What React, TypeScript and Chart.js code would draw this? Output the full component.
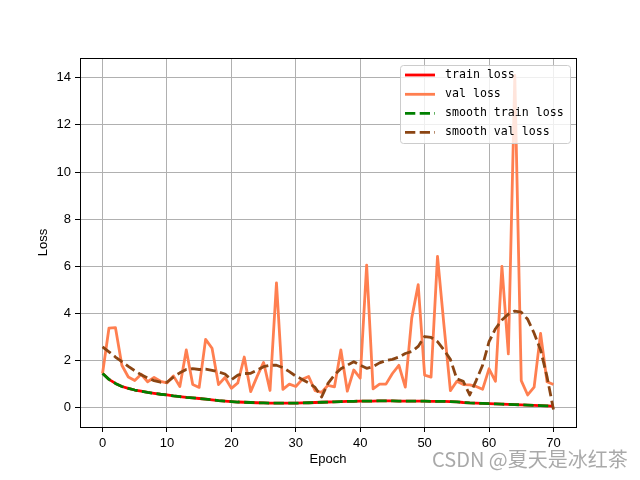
import React, { useEffect, useRef } from "react";
import { Chart, registerables } from "chart.js";

Chart.register(...registerables);

const trainLoss = [
  1.46, 1.2, 1.03, 0.9, 0.82, 0.75, 0.7, 0.65, 0.61, 0.57,
  0.54, 0.5, 0.47, 0.44, 0.42, 0.39, 0.36, 0.33, 0.3, 0.28,
  0.26, 0.24, 0.23, 0.22, 0.21, 0.2, 0.19, 0.19, 0.19, 0.19,
  0.19, 0.2, 0.21, 0.22, 0.23, 0.24, 0.25, 0.26, 0.27, 0.27,
  0.28, 0.28, 0.28, 0.29, 0.29, 0.29, 0.28, 0.28, 0.28, 0.28,
  0.28, 0.27, 0.27, 0.27, 0.26, 0.25, 0.22, 0.2, 0.19, 0.18,
  0.17, 0.16, 0.15, 0.14, 0.13, 0.12, 0.11, 0.1, 0.09, 0.08,
  0.07,
];

const valLoss = [
  1.45, 3.38, 3.4, 1.8, 1.3, 1.15, 1.42, 1.1, 1.28, 1.12,
  1.05, 1.35, 0.9, 2.45, 0.98, 0.86, 2.9, 2.52, 0.98, 1.28,
  0.82, 1.05, 2.15, 0.68, 1.33, 1.92, 0.73, 5.3, 0.78, 1.0,
  0.9, 1.2, 1.32, 0.72, 0.65, 0.95, 0.88, 2.45, 0.7, 1.6,
  1.25, 6.05, 0.8, 1.0, 1.0, 1.45, 1.8, 0.87, 3.8, 5.22,
  1.38, 1.3, 6.42, 3.5, 0.72, 1.12, 0.98, 0.97, 0.9, 0.78,
  1.65, 1.12, 6.0, 2.28, 14.1, 1.15, 0.54, 0.87, 3.15, 1.1,
  0.98,
];

const smoothTrainLoss = [
  1.45, 1.2, 1.03, 0.9, 0.82, 0.75, 0.7, 0.65, 0.61, 0.57,
  0.54, 0.5, 0.47, 0.44, 0.42, 0.39, 0.36, 0.33, 0.3, 0.28,
  0.26, 0.24, 0.23, 0.22, 0.21, 0.2, 0.19, 0.19, 0.19, 0.19,
  0.19, 0.2, 0.21, 0.22, 0.23, 0.24, 0.25, 0.26, 0.27, 0.27,
  0.28, 0.28, 0.28, 0.29, 0.29, 0.29, 0.28, 0.28, 0.28, 0.28,
  0.28, 0.27, 0.27, 0.27, 0.26, 0.25, 0.22, 0.2, 0.19, 0.18,
  0.17, 0.16, 0.15, 0.14, 0.13, 0.12, 0.11, 0.1, 0.09, 0.08,
  0.07,
];

const smoothValLoss = [
  2.58, 2.37, 2.15, 1.95, 1.75, 1.57, 1.4, 1.26, 1.15, 1.08,
  1.08, 1.3, 1.48, 1.62, 1.66, 1.62, 1.64, 1.58, 1.52, 1.43,
  1.18, 1.38, 1.45, 1.46, 1.6, 1.74, 1.8, 1.8, 1.7, 1.53,
  1.34, 1.2, 1.05, 0.86, 0.45, 1.03, 1.39, 1.65, 1.8, 1.95,
  1.8, 1.67, 1.74, 1.9, 2.0, 2.05, 2.15, 2.3, 2.38, 2.6,
  3.02, 2.98, 2.8, 2.45, 2.05, 1.22, 1.12, 0.54, 1.15, 1.8,
  2.8, 3.35, 3.72, 3.97, 4.1, 4.05, 3.75, 3.16, 2.45, 1.32,
  -0.08,
];

const xTicks = [0, 10, 20, 30, 40, 50, 60, 70];
const yTicks = [0, 2, 4, 6, 8, 10, 12, 14];
const seriesLabels = ["train loss", "val loss", "smooth train loss", "smooth val loss"];
const seriesColors = ["#ff0000", "#ff7f50", "#008000", "#8b4513"];
const watermark = "CSDN @夏天是冰红茶";

const toPoints = (arr: number[]) => arr.map((y, i) => ({ x: i, y }));

const DASH = [10.3, 4.4];

const extrasPlugin = {
  id: "extras",
  afterDraw(chart: any) {
    const ctx = chart.ctx as CanvasRenderingContext2D;
    const a = chart.chartArea;
    ctx.save();
    // frame
    ctx.strokeStyle = "#000";
    ctx.lineWidth = 1;
    ctx.setLineDash([]);
    ctx.strokeRect(Math.round(a.left) + 0.5, Math.round(a.top) + 0.5, Math.round(a.right - a.left), Math.round(a.bottom - a.top));

    // legend
    const bx = 400.5, by = 65.5, bw = 170, bh = 78, r = 3;
    ctx.beginPath();
    ctx.moveTo(bx + r, by);
    ctx.lineTo(bx + bw - r, by);
    ctx.quadraticCurveTo(bx + bw, by, bx + bw, by + r);
    ctx.lineTo(bx + bw, by + bh - r);
    ctx.quadraticCurveTo(bx + bw, by + bh, bx + bw - r, by + bh);
    ctx.lineTo(bx + r, by + bh);
    ctx.quadraticCurveTo(bx, by + bh, bx, by + bh - r);
    ctx.lineTo(bx, by + r);
    ctx.quadraticCurveTo(bx, by, bx + r, by);
    ctx.closePath();
    ctx.fillStyle = "rgba(255,255,255,0.8)";
    ctx.fill();
    ctx.strokeStyle = "#cccccc";
    ctx.stroke();

    const rows = [75, 94.3, 113.3, 132.3];
    chart.data.datasets.forEach((ds: any, i: number) => {
      const y = rows[i];
      ctx.beginPath();
      ctx.setLineDash(ds.borderDash || []);
      ctx.lineDashOffset = 0;
      ctx.strokeStyle = ds.borderColor;
      ctx.lineWidth = ds.borderWidth;
      ctx.lineCap = "butt";
      ctx.moveTo(405, y);
      ctx.lineTo(435, y);
      ctx.stroke();
      ctx.setLineDash([]);
      ctx.fillStyle = "#000";
      ctx.font = '11.6px "DejaVu Sans Mono"';
      ctx.textBaseline = "middle";
      ctx.textAlign = "left";
      ctx.fillText(ds.label, 445, y);
    });

    // watermark
    ctx.font = '20px "Noto Sans CJK SC"';
    ctx.fillStyle = "rgba(140,140,140,0.75)";
    ctx.textBaseline = "middle";
    ctx.textAlign = "left";
    ctx.fillText(watermark, 432, 459);
    ctx.restore();
  },
};

export default function App() {
  const ref = useRef<HTMLCanvasElement | null>(null);

  useEffect(() => {
    document.body.style.margin = "0";
    const canvas = ref.current;
    if (!canvas) return;
    const seriesData = [trainLoss, valLoss, smoothTrainLoss, smoothValLoss];
    const tickFont = { family: '"Liberation Sans", Arial, sans-serif', size: 13 };
    const chart = new Chart(canvas, {
      type: "line",
      data: {
        datasets: seriesData.map((arr, i) => ({
          label: seriesLabels[i],
          data: toPoints(arr),
          borderColor: seriesColors[i],
          backgroundColor: seriesColors[i],
          borderWidth: 2.8,
          borderDash: i >= 2 ? DASH : [],
          borderJoinStyle: "round" as const,
          borderCapStyle: "butt" as const,
          pointRadius: 0,
          tension: 0,
          fill: false,
          order: 4 - i,
        })),
      },
      options: {
        animation: false,
        responsive: false,
        devicePixelRatio: 1,
        layout: { padding: { left: 32, top: 58, right: 64, bottom: 9 } },
        plugins: {
          legend: { display: false },
          tooltip: { enabled: false },
        },
        scales: {
          x: {
            type: "linear",
            min: -3.5,
            max: 73.5,
            afterBuildTicks: (s: any) => {
              s.ticks = xTicks.map((v) => ({ value: v }));
            },
            afterFit: (s: any) => {
              s.height = 44;
            },
            grid: { color: "#b0b0b0", lineWidth: 1, tickColor: "#000", tickLength: 5, drawTicks: true },
            border: { display: true, color: "#000", width: 1 },
            ticks: { color: "#000", font: tickFont, padding: 4, maxRotation: 0, autoSkip: false },
            title: { display: true, text: "Epoch", color: "#000", font: tickFont, padding: { top: 4, bottom: 4 } },
          },
          y: {
            type: "linear",
            min: -0.82,
            max: 14.84,
            afterBuildTicks: (s: any) => {
              s.ticks = yTicks.map((v) => ({ value: v }));
            },
            afterFit: (s: any) => {
              s.width = 48;
            },
            grid: { color: "#b0b0b0", lineWidth: 1, tickColor: "#000", tickLength: 5, drawTicks: true },
            border: { display: true, color: "#000", width: 1 },
            ticks: { color: "#000", font: tickFont, padding: 4, autoSkip: false },
            title: { display: true, text: "Loss", color: "#000", font: tickFont, padding: { top: 4, bottom: 4 } },
          },
        },
      },
      plugins: [extrasPlugin],
    });
    return () => chart.destroy();
  }, []);

  return (
    <div style={{ position: "fixed", left: 0, top: 0, width: 640, height: 480, background: "#fff" }}>
      <canvas ref={ref} width={640} height={480} />
    </div>
  );
}
